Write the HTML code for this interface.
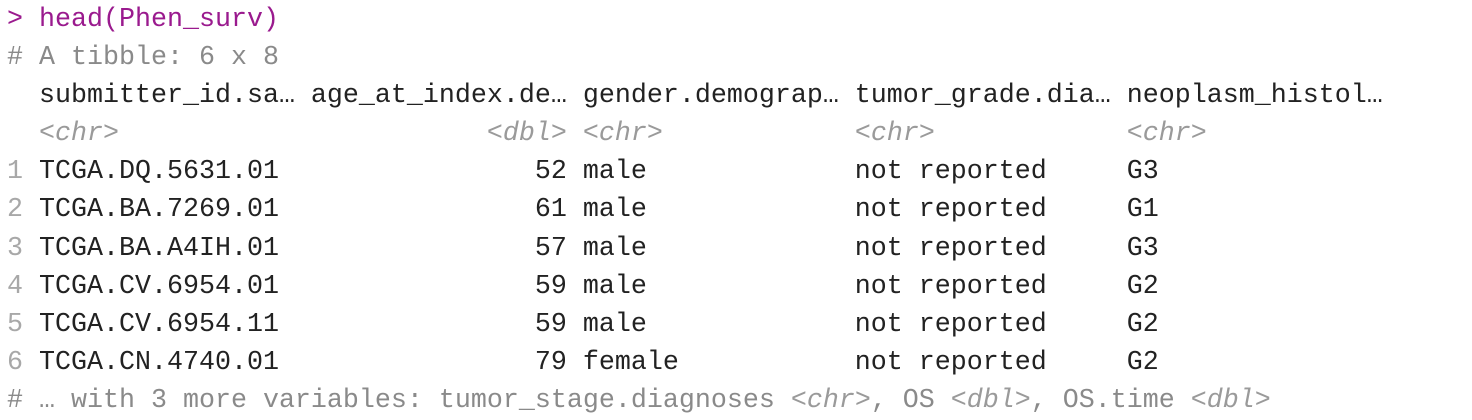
<!DOCTYPE html>
<html><head><meta charset="utf-8"><style>
html,body{margin:0;padding:0;background:#fff;width:1472px;height:418px;overflow:hidden}
pre{margin:0;position:absolute;left:7px;top:1px;font-family:"Liberation Mono",monospace;font-size:26.67px;line-height:38.1px;color:#222;white-space:pre}
.p{color:#9a1a8e}
.c{color:#8a8a8a}
.t{color:#9a9a9a;font-style:italic}
.n{color:#a8a8a8}
</style></head><body>
<pre><span class="p">&gt; head(Phen_surv)</span>
<span class="c"># A tibble: 6 x 8</span>
  submitter_id.sa… age_at_index.de… gender.demograp… tumor_grade.dia… neoplasm_histol…
  <span class="t">&lt;chr&gt;</span>                       <span class="t">&lt;dbl&gt;</span> <span class="t">&lt;chr&gt;</span>            <span class="t">&lt;chr&gt;</span>            <span class="t">&lt;chr&gt;</span>
<span class="n">1</span> TCGA.DQ.5631.01                52 male             not reported     G3
<span class="n">2</span> TCGA.BA.7269.01                61 male             not reported     G1
<span class="n">3</span> TCGA.BA.A4IH.01                57 male             not reported     G3
<span class="n">4</span> TCGA.CV.6954.01                59 male             not reported     G2
<span class="n">5</span> TCGA.CV.6954.11                59 male             not reported     G2
<span class="n">6</span> TCGA.CN.4740.01                79 female           not reported     G2
<span class="c"># … with 3 more variables: tumor_stage.diagnoses <span class="t">&lt;chr&gt;</span>, OS <span class="t">&lt;dbl&gt;</span>, OS.time <span class="t">&lt;dbl&gt;</span></span></pre>
</body></html>
